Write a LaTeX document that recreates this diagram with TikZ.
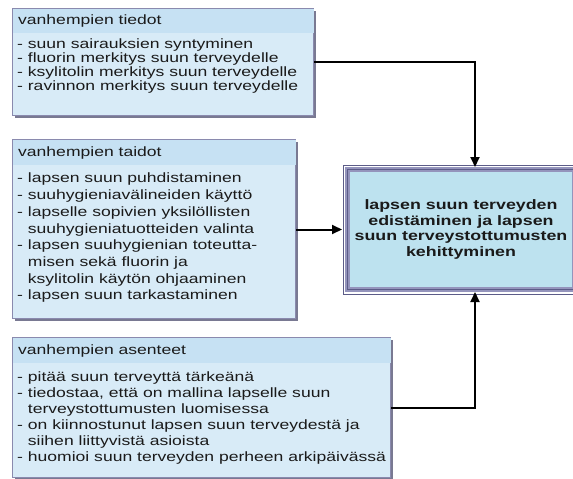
\documentclass[tikz,border=0pt]{standalone}
\usepackage{fontspec}
\newfontfamily\dfont[FakeStretch=1.3]{Liberation Sans}
\usetikzlibrary{shadows,arrows.meta}
\definecolor{boxfill}{HTML}{D8EBF7}
\definecolor{hdrfill}{HTML}{C6E1F3}
\definecolor{boxborder}{HTML}{8A8AAE}
\definecolor{shadowc}{HTML}{6A6A86}
\definecolor{centerfill}{HTML}{BDE2EF}
\definecolor{centerband}{HTML}{9494BC}
\definecolor{centerline}{HTML}{5C5C88}
\definecolor{txt}{HTML}{1A1A1A}
\begin{document}
\begin{tikzpicture}[x=1pt,y=-1pt,
  panel/.style={draw=boxborder, line width=1.2pt, fill=boxfill, rectangle,
    inner sep=0pt, anchor=north west,
    drop shadow={shadow xshift=2pt, shadow yshift=-2.5pt, fill=shadowc, opacity=0.9}},
  hdrtext/.style={anchor=west, inner sep=0pt, text=txt, font=\dfont\fontsize{13.5}{16}\selectfont},
  bodytext/.style={anchor=north west, inner sep=0pt, align=left, text=txt},
  centertext/.style={inner sep=0pt, align=center, text=txt,
    font=\dfont\bfseries\fontsize{13.7}{15.8}\selectfont},
  conn/.style={line width=2pt, -{Triangle[length=10pt,width=9pt]}}
]
\useasboundingbox (0,0) rectangle (573,479);

% box 1
\node[panel, minimum width=301pt, minimum height=107pt] (b1) at (12,8) {};
\fill[hdrfill] ([shift={(0.6pt,-0.6pt)}]b1.north west) rectangle ([shift={(-0.6pt,-25pt)}]b1.north east);
\node[hdrtext] (h1) at (18,21) {vanhempien tiedot};
\node[bodytext, font=\dfont\fontsize{13.5}{14}\selectfont] (t1) at (17,39)
  {- suun sairauksien syntyminen\\- fluorin merkitys suun terveydelle\\- ksylitolin merkitys suun terveydelle\\- ravinnon merkitys suun terveydelle};

% box 2
\node[panel, minimum width=283pt, minimum height=179pt] (b2) at (12,139) {};
\fill[hdrfill] ([shift={(0.6pt,-0.6pt)}]b2.north west) rectangle ([shift={(-0.6pt,-26pt)}]b2.north east);
\node[hdrtext] (h2) at (18,153) {vanhempien taidot};
\node[bodytext, font=\dfont\fontsize{13.5}{16.7}\selectfont] (t2) at (17,173)
  {- lapsen suun puhdistaminen\\- suuhygieniavälineiden käyttö\\- lapselle sopivien yksilöllisten\\\phantom{- }suuhygieniatuotteiden valinta\\- lapsen suuhygienian toteutta-\\\phantom{- }misen sekä fluorin ja\\\phantom{- }ksylitolin käytön ohjaaminen\\- lapsen suun tarkastaminen};

% box 3
\node[panel, minimum width=378pt, minimum height=140pt] (b3) at (12,337) {};
\fill[hdrfill] ([shift={(0.6pt,-0.6pt)}]b3.north west) rectangle ([shift={(-0.6pt,-26pt)}]b3.north east);
\node[hdrtext] (h3) at (18,351) {vanhempien asenteet};
\node[bodytext, font=\dfont\fontsize{13.5}{16}\selectfont] (t3) at (17,372)
  {- pitää suun terveyttä tärkeänä\\- tiedostaa, että on mallina lapselle suun\\\phantom{- }terveystottumusten luomisessa\\- on kiinnostunut lapsen suun terveydestä ja\\\phantom{- }siihen liittyvistä asioista\\- huomioi suun terveyden perheen arkipäivässä};

% central box
\node[rectangle, anchor=north west, minimum width=227pt, minimum height=120pt,
  fill=centerfill, draw=centerband, line width=5pt, inner sep=0pt] (c) at (345,167) {};
\draw[centerline, line width=1pt] ([shift={(-2pt,2pt)}]c.north west) rectangle ([shift={(2pt,-2pt)}]c.south east);
\draw[centerline, line width=1.2pt] ([shift={(2.6pt,-2.6pt)}]c.north west) rectangle ([shift={(-2.6pt,2.6pt)}]c.south east);
\node[centertext] (ct) at (c.center) {lapsen suun terveyden\\edistäminen ja lapsen\\suun terveystottumusten\\kehittyminen};

% connectors
\coordinate (k1) at (475,0);
\draw[conn] (b1.east) -| (k1 |- c.north);
\draw[conn] (b2.east |- c.west) -- ([xshift=-3pt]c.west);
\draw[conn] (b3.east) -| (k1 |- c.south);
\end{tikzpicture}
\end{document}
